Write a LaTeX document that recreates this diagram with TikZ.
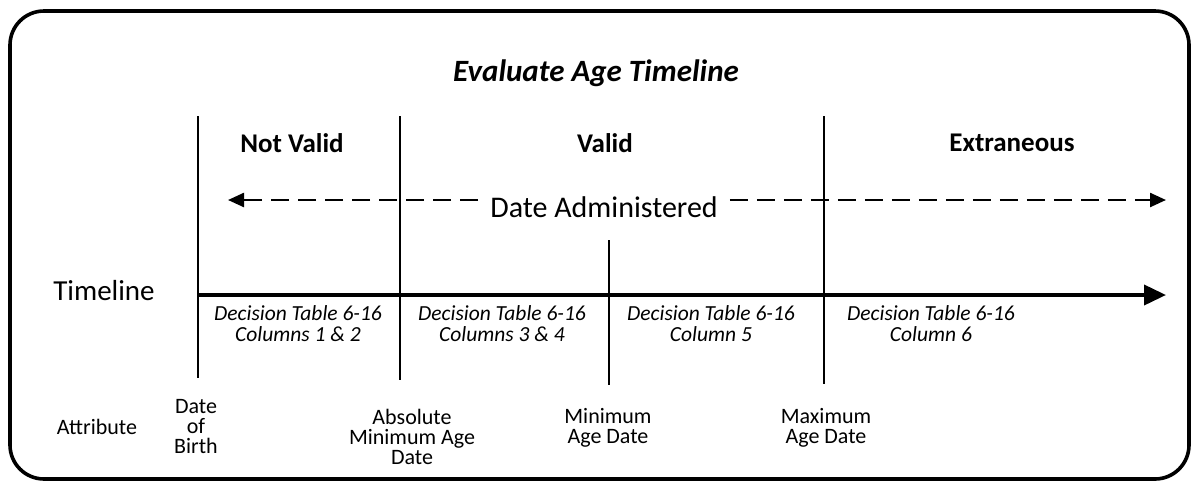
\documentclass[tikz,border=0pt]{standalone}
\usepackage{fontspec}
\setmainfont{Carlito}
\usetikzlibrary{arrows.meta,positioning,calc}

\begin{document}
\begin{tikzpicture}[x=1pt, y=-1pt, auto]

\tikzstyle{header} = [font=\fontsize{27}{30}\selectfont\bfseries, inner sep = 0pt]
\tikzstyle{cell} = [align=center, font=\fontsize{21.5}{21}\selectfont\itshape, inner sep = 0pt]
\tikzstyle{attr} = [align=center, font=\fontsize{22}{20}\selectfont, inner sep = 0pt]
\tikzstyle{rule} = [line width = 1.8pt]
\tikzstyle{dash_line} = [line width = 2.4pt, dash pattern = on 18pt off 9pt]

\useasboundingbox (0,0) rectangle (1191,483);

% frame
\draw[line width = 3.6pt, rounded corners = 34pt] (10,11) rectangle (1189,479);

\node [font=\fontsize{31}{34}\selectfont\bfseries\itshape] (title) at (596,73) {Evaluate Age Timeline};

% vertical markers
\coordinate (dob_top) at (198,116);
\coordinate (dob_bot) at (198,378);
\coordinate (absmin_top) at (400,116);
\coordinate (absmin_bot) at (400,380);
\coordinate (min_top) at (609,240);
\coordinate (min_bot) at (609,385);
\coordinate (max_top) at (824,116);
\coordinate (max_bot) at (824,384);

\draw[rule] (dob_top) -- (dob_bot);
\draw[rule] (absmin_top) -- (absmin_bot);
\draw[rule] (min_top) -- (min_bot);
\draw[rule] (max_top) -- (max_bot);

% headers
\node [header] (not_valid) at (292,143) {Not Valid};
\node [header] (valid) at (605,143) {Valid};
\node [header] (extraneous) at (1012,143) {Extraneous};

% date administered
\node [font=\fontsize{30}{32}\selectfont, inner sep = 0pt] (date_adm) at (604,207) {Date Administered};
\coordinate (adm_left) at (228,200);
\coordinate (adm_right) at (1166,200);
\draw[dash_line, -{Triangle[length=16pt,width=14pt]}] ([xshift=-12pt]date_adm.west |- adm_left) -- (adm_left);
\draw[dash_line, -{Triangle[length=16pt,width=14pt]}] ([xshift=12pt]date_adm.east |- adm_right) -- (adm_right);

% timeline
\coordinate (tl_start) at (198,295);
\coordinate (tl_end) at (1166,295);
\draw[line width = 3.8pt, -{Triangle[length=22pt,width=20pt]}] (tl_start) -- (tl_end);
\node [font=\fontsize{29}{30}\selectfont, inner sep = 0pt] (tl_lbl) at (104,291) {Timeline};

% decision table cells
\node [cell] (cell1) at (298,324) {Decision Table 6-16\\Columns 1 \& 2};
\node [cell] (cell2) at (502,324) {Decision Table 6-16\\Columns 3 \& 4};
\node [cell] (cell3) at (711,324) {Decision Table 6-16\\Column 5};
\node [cell] (cell4) at (931,324) {Decision Table 6-16\\Column 6};

% attributes
\node [attr] (attribute) at (97,427) {Attribute};
\node [attr] (dob) at (196,427) {Date\\of\\Birth};
\node [attr] (absmin) at (412,437) {Absolute\\Minimum Age\\Date};
\node [attr] (min) at (608,428) {Minimum\\Age Date};
\node [attr] (max) at (826,428) {Maximum\\Age Date};

\end{tikzpicture}
\end{document}
